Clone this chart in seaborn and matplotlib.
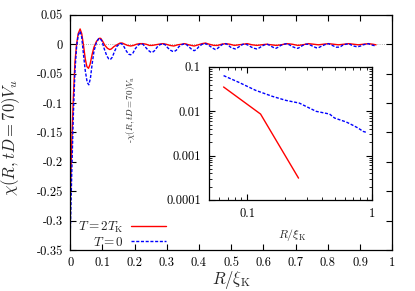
import matplotlib
matplotlib.use('Agg')
import matplotlib.pyplot as plt
from matplotlib.ticker import FuncFormatter, FixedLocator, LogLocator, NullFormatter
import seaborn as sns

# main panel, T = 2 T_K (red)
r_red = [0.000, 0.005, 0.010, 0.015, 0.020, 0.025, 0.031, 0.036, 0.041, 0.047,
         0.052, 0.057, 0.062, 0.068, 0.074, 0.082, 0.090, 0.095, 0.101, 0.108,
         0.116, 0.123, 0.128, 0.136, 0.145, 0.155, 0.162, 0.170, 0.178, 0.188,
         0.197, 0.206, 0.216, 0.226, 0.236, 0.246, 0.255, 0.265, 0.275, 0.288,
         0.298, 0.310, 0.322, 0.334, 0.346, 0.356, 0.368, 0.385, 0.398, 0.410,
         0.420, 0.432, 0.446, 0.458, 0.470, 0.483, 0.496, 0.510, 0.524, 0.537,
         0.550, 0.565, 0.580, 0.594, 0.610, 0.625, 0.640, 0.655, 0.673, 0.690,
         0.707, 0.722, 0.740, 0.756, 0.771, 0.786, 0.802, 0.818, 0.833, 0.850,
         0.865, 0.880, 0.895, 0.910, 0.926, 0.940, 0.950]
chi_red = [-0.270, -0.170, -0.090, -0.030, 0.000, 0.018, 0.026, 0.018, 0.000, -0.025,
           -0.038, -0.041, -0.034, -0.018, -0.005, 0.005, 0.010, 0.010, 0.005, -0.002,
           -0.007, -0.009, -0.008, -0.004, -0.001, 0.002, 0.002, 0.000, -0.002, -0.003,
           -0.002, 0.000, 0.001, 0.001, 0.000, -0.002, -0.002, -0.001, 0.000, 0.001,
           0.000, -0.002, -0.003, -0.001, 0.000, 0.001, -0.001, -0.003, -0.001, 0.001,
           0.002, 0.000, -0.002, -0.002, 0.000, 0.001, 0.000, -0.002, -0.001, 0.000,
           0.001, -0.001, -0.002, -0.001, 0.000, -0.001, -0.002, -0.001, 0.001, 0.000,
           -0.002, -0.001, 0.001, 0.000, -0.001, 0.000, 0.001, 0.000, -0.001, 0.000,
           0.001, 0.000, -0.001, 0.000, 0.001, 0.000, -0.001]

# main panel, T = 0 (blue)
r_blue = [0.000, 0.005, 0.010, 0.015, 0.020, 0.025, 0.031, 0.036, 0.041, 0.047,
          0.053, 0.058, 0.063, 0.068, 0.074, 0.081, 0.088, 0.093, 0.099, 0.106,
          0.114, 0.120, 0.125, 0.131, 0.138, 0.146, 0.155, 0.160, 0.167, 0.175,
          0.182, 0.188, 0.195, 0.202, 0.210, 0.219, 0.226, 0.234, 0.242, 0.249,
          0.255, 0.262, 0.270, 0.278, 0.288, 0.295, 0.303, 0.311, 0.318, 0.323,
          0.330, 0.338, 0.346, 0.355, 0.362, 0.370, 0.378, 0.385, 0.392, 0.400,
          0.410, 0.420, 0.428, 0.436, 0.444, 0.451, 0.458, 0.466, 0.474, 0.483,
          0.490, 0.498, 0.506, 0.513, 0.520, 0.528, 0.537, 0.546, 0.554, 0.563,
          0.572, 0.580, 0.588, 0.596, 0.604, 0.612, 0.620, 0.626, 0.633, 0.639,
          0.646, 0.654, 0.663, 0.673, 0.681, 0.690, 0.699, 0.707, 0.714, 0.722,
          0.731, 0.740, 0.748, 0.756, 0.764, 0.771, 0.778, 0.786, 0.794, 0.802,
          0.810, 0.818, 0.826, 0.833, 0.840, 0.848, 0.856, 0.865, 0.872, 0.880,
          0.888, 0.895, 0.902, 0.910, 0.918, 0.926, 0.934, 0.942, 0.950]
chi_blue = [-0.330, -0.220, -0.120, -0.045, -0.005, 0.015, 0.022, 0.012, -0.015, -0.045,
            -0.065, -0.069, -0.058, -0.035, -0.012, 0.002, 0.009, 0.010, 0.005, -0.008,
            -0.020, -0.025, -0.026, -0.022, -0.012, -0.003, 0.001, 0.001, -0.004, -0.012,
            -0.017, -0.018, -0.015, -0.008, -0.002, 0.001, 0.000, -0.005, -0.010, -0.013,
            -0.014, -0.011, -0.005, -0.001, 0.001, -0.001, -0.006, -0.010, -0.012, -0.0125,
            -0.010, -0.004, -0.001, 0.001, -0.001, -0.005, -0.009, -0.011, -0.009, -0.004,
            0.000, 0.001, -0.001, -0.004, -0.007, -0.009, -0.007, -0.003, 0.000, 0.001,
            -0.001, -0.005, -0.007, -0.008, -0.006, -0.003, 0.000, 0.000, -0.002, -0.005,
            -0.007, -0.008, -0.006, -0.003, -0.001, 0.000, -0.002, -0.004, -0.006, -0.007,
            -0.005, -0.002, 0.000, 0.001, -0.001, -0.004, -0.006, -0.007, -0.005, -0.002,
            0.000, 0.000, -0.002, -0.004, -0.006, -0.006, -0.004, -0.002, 0.000, 0.001,
            -0.001, -0.003, -0.005, -0.005, -0.004, -0.001, 0.000, 0.001, -0.001, -0.003,
            -0.004, -0.004, -0.003, -0.001, 0.000, 0.001, -0.001, -0.002, -0.003]

# inset (log-log), -chi
r_in_red = [0.0648, 0.128, 0.2575]
chi_in_red = [0.0353, 0.00865, 0.00031]
r_in_blue = [0.0648, 0.0857, 0.1167, 0.159, 0.204, 0.261, 0.295, 0.356,
             0.456, 0.500, 0.621, 0.703, 0.771, 0.846, 0.900]
chi_in_blue = [0.0637, 0.045, 0.0297, 0.0217, 0.0176, 0.0153, 0.0129, 0.00996,
               0.00865, 0.00703, 0.00571, 0.0048, 0.00418, 0.00351, 0.00333]

main_xticks = [0, 0.1, 0.2, 0.3, 0.4, 0.5, 0.6, 0.7, 0.8, 0.9, 1]
main_yticks = [-0.35, -0.3, -0.25, -0.2, -0.15, -0.1, -0.05, 0, 0.05]
inset_xticks = [0.1, 1]
inset_yticks = [0.0001, 0.001, 0.01, 0.1]

sns.set_style('ticks')
plt.rcParams['font.family'] = ['cmr10', 'DejaVu Serif']
plt.rcParams['mathtext.fontset'] = 'cm'
plt.rcParams['axes.unicode_minus'] = False
plt.rcParams['axes.formatter.use_mathtext'] = True

fig = plt.figure(figsize=(4.15, 2.91), dpi=100)
ax = fig.add_axes([0.169, 0.141, 0.776, 0.808])

ax.axhline(0, color='#999999', ls=':', lw=0.6, zorder=0)
sns.lineplot(x=r_red, y=chi_red, ax=ax, color='#ff0000', lw=1.0,
             label=r'$T=2T_{\rm K}$', sort=False)
sns.lineplot(x=r_blue, y=chi_blue, ax=ax, color='#0000ff', lw=1.0,
             label=r'$T=0$', sort=False)
ax.lines[-1].set_linestyle((0, (2.2, 1.2)))

fmt = FuncFormatter(lambda v, p: '%g' % v)
ax.set_xlim(0, 1)
ax.set_ylim(-0.35, 0.05)
ax.xaxis.set_major_locator(FixedLocator(main_xticks))
ax.yaxis.set_major_locator(FixedLocator(main_yticks))
ax.xaxis.set_major_formatter(fmt)
ax.yaxis.set_major_formatter(fmt)
ax.tick_params(direction='in', top=True, right=True, length=4, width=0.8,
               labelsize=9, pad=5, colors='black')
for s in ax.spines.values():
    s.set_linewidth(0.9)
    s.set_color('black')
ax.set_xlabel(r'$R/\xi_{\rm K}$', fontsize=12)
ax.set_ylabel(r'$\chi(R,tD=70)V_u$', fontsize=12)
ax.xaxis.set_label_coords(0.502, -0.08)
ax.yaxis.set_label_coords(-0.15, 0.48)

ax.legend(loc='lower right', bbox_to_anchor=(0.297, 0.005), frameon=False,
          markerfirst=False, fontsize=9.5, handlelength=2.6, handletextpad=0.6,
          labelspacing=0.05, borderpad=0, borderaxespad=0)

# inset
ins = fig.add_axes([0.504, 0.313, 0.393, 0.457])
sns.lineplot(x=r_in_red, y=chi_in_red, ax=ins, color='#ff0000', lw=1.0, sort=False)
sns.lineplot(x=r_in_blue, y=chi_in_blue, ax=ins, color='#0000ff', lw=1.0, sort=False)
ins.lines[-1].set_linestyle((0, (2.2, 1.2)))
ins.set_xscale('log')
ins.set_yscale('log')
ins.set_xlim(0.0497, 1)
ins.set_ylim(0.0001, 0.1)
ins.xaxis.set_major_locator(FixedLocator(inset_xticks))
ins.yaxis.set_major_locator(FixedLocator(inset_yticks))
ins.xaxis.set_minor_locator(LogLocator(base=10, subs=range(2, 10)))
ins.yaxis.set_minor_locator(LogLocator(base=10, subs=range(2, 10)))
ins.xaxis.set_major_formatter(fmt)
ins.yaxis.set_major_formatter(fmt)
ins.xaxis.set_minor_formatter(NullFormatter())
ins.yaxis.set_minor_formatter(NullFormatter())
ins.tick_params(which='major', direction='in', top=True, right=True, length=4,
                width=0.8, labelsize=9, pad=6, colors='black')
ins.tick_params(which='minor', direction='in', top=True, right=True, length=2,
                width=0.6, colors='black')
for s in ins.spines.values():
    s.set_linewidth(0.9)
    s.set_color('black')
ins.set_xlabel(r'$R/\xi_{\rm K}$', fontsize=8.5)
ins.set_ylabel(r'-$\chi(R,tD=70)V_u$', fontsize=6.5)
ins.xaxis.set_label_coords(0.507, -0.2)
ins.yaxis.set_label_coords(-0.44, 0.684)

fig.savefig('out.png', dpi=100)
